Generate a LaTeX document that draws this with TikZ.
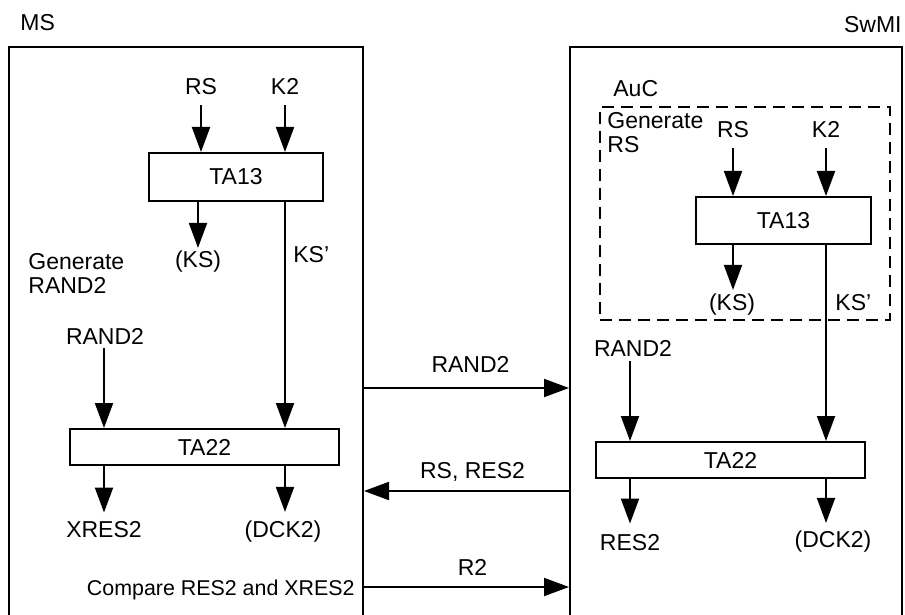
\documentclass[tikz,border=0pt]{standalone}
\usepackage{fontspec}
\setmainfont{Liberation Sans}
\usetikzlibrary{arrows.meta}

\begin{document}
\begin{tikzpicture}[x=0.5pt,y=-0.5pt,
    every node/.style={inner sep=0pt, font=\fontsize{11.5pt}{12.25pt}\selectfont},
    func/.style={draw, line width=1pt},
    arr/.style={line width=1pt, -{Triangle[length=12.5pt,width=9pt]}}]
    \clip (0,0) rectangle (905,615);

    % The two parties
    \node [draw, line width=1pt, anchor=north west, minimum width=177pt, minimum height=300pt] (ms) at (8,46) {};
    \node [draw, line width=1pt, anchor=north west, minimum width=166pt, minimum height=300pt] (sw) at (569,46) {};
    \node [anchor=base west] (msL) at (20,31) {MS};
    \node [anchor=base east] (swL) at (902,33) {SwMI};

    % MS side: TA13 then TA22
    \node [func, minimum width=87pt, minimum height=24pt] (taA) at (236,177) {TA13};
    \node [func, minimum width=134.5pt, minimum height=18pt] (tbA) at (204.5,447) {TA22};
    \node [anchor=base] (rsA) at (201,95) {RS};
    \node [anchor=base] (k2A) at (285,95) {K2};
    \node [anchor=base] (ksA) at (198,267) {(KS)};
    \node [anchor=base west] (kspA) at (293,262) {KS'};
    \node [anchor=north west, align=left] (genA) at (28,253) {Generate\\RAND2};
    \node [anchor=base] (randA) at (105,344) {RAND2};
    \node [anchor=base] (xres) at (104,537) {XRES2};
    \node [anchor=base] (dckA) at (283,537) {(DCK2)};
    \node [anchor=base east, font=\fontsize{10.7pt}{12pt}\selectfont] (cmp) at (355,595) {Compare RES2 and XRES2};

    \draw [arr] ([yshift=-5pt]rsA.base) -- (rsA |- taA.north);
    \draw [arr] ([yshift=-5pt]k2A.base) -- (k2A |- taA.north);
    \draw [arr] (taA.south -| ksA) -- ([yshift=1pt]ksA.north);
    \draw [arr] (taA.south -| k2A) -- (tbA.north -| k2A);
    \draw [arr] ([yshift=-2pt]randA.base -| xres) -- (xres |- tbA.north);
    \draw [arr] (tbA.south -| xres) -- ([yshift=4pt]xres.north);
    \draw [arr] (tbA.south -| k2A) -- ([yshift=4pt]dckA.north -| k2A);

    % SwMI side: AuC holds TA13
    \node [draw, line width=1pt, dash pattern=on 6pt off 3.5pt, anchor=north west, minimum width=145pt, minimum height=106.5pt] (aucbox) at (599,106) {};
    \node [anchor=base west] (auc) at (613,97) {AuC};
    \node [anchor=north west, align=left] (genB) at (607,112) {Generate\\RS};
    \node [func, minimum width=87.5pt, minimum height=23.5pt] (taB) at (783.5,220.5) {TA13};
    \node [func, minimum width=134.5pt, minimum height=18pt] (tbB) at (730.5,460) {TA22};
    \node [anchor=base] (rsB) at (733,138) {RS};
    \node [anchor=base] (k2B) at (826,138) {K2};
    \node [anchor=base] (ksB) at (732,310) {(KS)};
    \node [anchor=base west] (kspB) at (835,310) {KS'};
    \node [anchor=base] (randB) at (633,356) {RAND2};
    \node [anchor=base] (res) at (630,550) {RES2};
    \node [anchor=base] (dckB) at (833,547) {(DCK2)};

    \draw [arr] ([yshift=-5pt]rsB.base) -- (rsB |- taB.north);
    \draw [arr] ([yshift=-5pt]k2B.base) -- (k2B |- taB.north);
    \draw [arr] (taB.south -| rsB) -- ([yshift=1.5pt]ksB.north -| rsB);
    \draw [arr] (taB.south -| k2B) -- (tbB.north -| k2B);
    \draw [arr] ([yshift=-2.5pt]randB.base -| res) -- (res |- tbB.north);
    \draw [arr] (tbB.south -| res) -- ([yshift=5pt]res.north);
    \draw [arr] (tbB.south -| k2B) -- ([yshift=3.5pt]dckB.north -| k2B);

    % Messages between MS and SwMI
    \coordinate (m1) at (0,388);
    \coordinate (m2) at (0,491);
    \coordinate (m3) at (0,587);
    \draw [arr] (ms.east |- m1) -- node [above=7.5pt, xshift=2pt] {RAND2} (sw.west |- m1);
    \draw [arr] (sw.west |- m2) -- node [above=4.5pt, xshift=3pt] {RS, RES2} (ms.east |- m2);
    \draw [arr] (ms.east |- m3) -- node [above=5.5pt, xshift=3pt] {R2} (sw.west |- m3);
\end{tikzpicture}
\end{document}
